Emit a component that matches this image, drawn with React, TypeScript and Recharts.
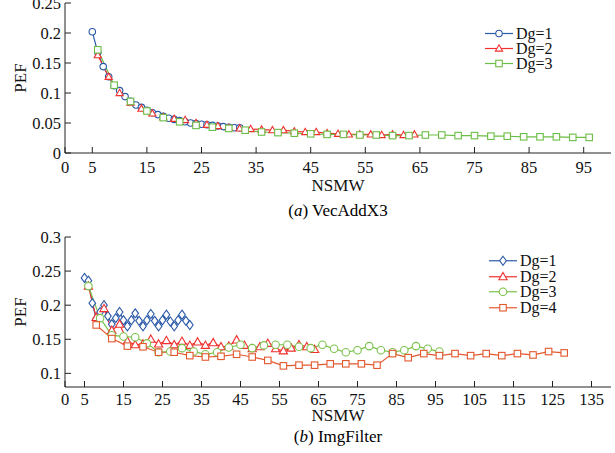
import { LineChart, Line, XAxis, YAxis } from "recharts";

// (a) VecAddX3
const vecX1 = [5, 6, 7, 8, 9, 10, 11, 12, 13, 14, 15, 16, 17, 18, 19, 20, 21, 22, 23, 24, 25, 26, 27, 28, 29, 30, 31, 32];
const vecPef1 = [0.202, 0.168, 0.144, 0.127, 0.112, 0.104, 0.094, 0.086, 0.08, 0.076, 0.071, 0.067, 0.064, 0.061, 0.058, 0.056, 0.054, 0.052, 0.05, 0.049, 0.048, 0.047, 0.046, 0.045, 0.044, 0.043, 0.042, 0.042];
const vecX2 = [6, 8, 10, 12, 14, 16, 18, 20, 22, 24, 26, 28, 30, 32, 34, 36, 38, 40, 42, 44, 46, 48, 50, 52, 54, 56, 58, 60, 62, 64];
const vecPef2 = [0.163, 0.127, 0.1, 0.084, 0.074, 0.066, 0.06, 0.057, 0.055, 0.05, 0.047, 0.045, 0.042, 0.041, 0.04, 0.039, 0.038, 0.038, 0.036, 0.035, 0.035, 0.033, 0.032, 0.031, 0.031, 0.031, 0.03, 0.031, 0.03, 0.031];
const vecX3 = [6, 9, 12, 15, 18, 21, 24, 27, 30, 33, 36, 39, 42, 45, 48, 51, 54, 57, 60, 63, 66, 69, 72, 75, 78, 81, 84, 87, 90, 93, 96];
const vecPef3 = [0.172, 0.113, 0.086, 0.07, 0.059, 0.052, 0.046, 0.043, 0.041, 0.038, 0.035, 0.034, 0.033, 0.032, 0.031, 0.031, 0.03, 0.03, 0.029, 0.029, 0.03, 0.03, 0.029, 0.029, 0.028, 0.028, 0.027, 0.027, 0.027, 0.026, 0.026];

// (b) ImgFilter
const imgX1 = [5, 6, 7, 8, 9, 10, 11, 12, 13, 14, 15, 16, 17, 18, 19, 20, 21, 22, 23, 24, 25, 26, 27, 28, 29, 30, 31, 32];
const imgPef1 = [0.24, 0.236, 0.203, 0.18, 0.19, 0.2, 0.184, 0.172, 0.181, 0.19, 0.178, 0.169, 0.178, 0.188, 0.177, 0.169, 0.178, 0.187, 0.177, 0.169, 0.178, 0.186, 0.176, 0.169, 0.178, 0.186, 0.177, 0.171];
const imgX2 = [6, 8, 10, 12, 14, 16, 18, 20, 22, 24, 26, 28, 30, 32, 34, 36, 38, 40, 42, 44, 46, 48, 50, 52, 54, 56, 58, 60, 62, 64];
const imgPef2 = [0.228, 0.182, 0.195, 0.163, 0.172, 0.147, 0.142, 0.143, 0.15, 0.143, 0.148, 0.142, 0.147, 0.141, 0.146, 0.141, 0.145, 0.139, 0.14, 0.149, 0.141, 0.136, 0.139, 0.144, 0.136, 0.133, 0.137, 0.142, 0.139, 0.135];
const imgX3 = [6, 9, 12, 15, 18, 21, 24, 27, 30, 33, 36, 39, 42, 45, 48, 51, 54, 57, 60, 63, 66, 69, 72, 75, 78, 81, 84, 87, 90, 93, 96];
const imgPef3 = [0.228, 0.181, 0.156, 0.154, 0.153, 0.144, 0.131, 0.132, 0.137, 0.132, 0.128, 0.131, 0.138, 0.142, 0.137, 0.141, 0.142, 0.142, 0.139, 0.137, 0.142, 0.136, 0.131, 0.134, 0.14, 0.134, 0.131, 0.134, 0.14, 0.136, 0.132];
const imgX4 = [8, 12, 16, 20, 24, 28, 32, 36, 40, 44, 48, 52, 56, 60, 64, 68, 72, 76, 80, 84, 88, 92, 96, 100, 104, 108, 112, 116, 120, 124, 128];
const imgPef4 = [0.171, 0.151, 0.14, 0.139, 0.131, 0.131, 0.126, 0.124, 0.125, 0.128, 0.124, 0.119, 0.111, 0.112, 0.112, 0.114, 0.114, 0.114, 0.112, 0.129, 0.123, 0.129, 0.126, 0.129, 0.126, 0.129, 0.126, 0.129, 0.127, 0.132, 0.13];

const vecXTicks = [0, 5, 15, 25, 35, 45, 55, 65, 75, 85, 95];
const vecYTicks = [0, 0.05, 0.1, 0.15, 0.2, 0.25];
const imgXTicks = [0, 5, 15, 25, 35, 45, 55, 65, 75, 85, 95, 105, 115, 125, 135];
const imgYTicks = [0.1, 0.15, 0.2, 0.25, 0.3];

const FONT = "Liberation Serif, Tinos, DejaVu Serif, serif";
const AXIS = "#222";
const BLUE = "#2b5aa8";
const RED = "#f0302e";
const GREEN = "#6cbd45";
const GREEN2 = "#7ac24a";
const ORANGE = "#e2582d";

const pts = (xs: number[], ys: number[]) => xs.map((x, i) => ({ x, pef: ys[i] }));

type Shape = "circle" | "triangle" | "square" | "diamond";

function Mark({ shape, cx, cy, color, size }: { shape: Shape; cx: number; cy: number; color: string; size: number }) {
  const h = size / 2;
  const common = { fill: "#fff", stroke: color, strokeWidth: 1.1 };
  if (shape === "circle") return <circle cx={cx} cy={cy} r={h} {...common} />;
  if (shape === "square") return <rect x={cx - h} y={cy - h} width={size} height={size} {...common} />;
  if (shape === "triangle")
    return <polygon points={`${cx},${cy - h * 1.15} ${cx + h * 1.1},${cy + h * 0.8} ${cx - h * 1.1},${cy + h * 0.8}`} {...common} />;
  return <polygon points={`${cx},${cy - h * 1.3} ${cx + h * 0.95},${cy} ${cx},${cy + h * 1.3} ${cx - h * 0.95},${cy}`} {...common} />;
}

type Series = { name: string; data: { x: number; pef: number }[]; color: string; shape: Shape; size: number };

const vecSeries: Series[] = [
  { name: "Dg=1", data: pts(vecX1, vecPef1), color: BLUE, shape: "circle", size: 6.5 },
  { name: "Dg=2", data: pts(vecX2, vecPef2), color: RED, shape: "triangle", size: 6.5 },
  { name: "Dg=3", data: pts(vecX3, vecPef3), color: GREEN, shape: "square", size: 6.5 },
];

const imgSeries: Series[] = [
  { name: "Dg=1", data: pts(imgX1, imgPef1), color: BLUE, shape: "diamond", size: 7 },
  { name: "Dg=2", data: pts(imgX2, imgPef2), color: RED, shape: "triangle", size: 7.5 },
  { name: "Dg=3", data: pts(imgX3, imgPef3), color: GREEN2, shape: "circle", size: 7.5 },
  { name: "Dg=4", data: pts(imgX4, imgPef4), color: ORANGE, shape: "square", size: 6.5 },
];

function LegendBox({ items, left, top, rowH }: { items: Series[]; left: number; top: number; rowH: number }) {
  return (
    <div style={{ position: "absolute", left, top, fontFamily: FONT, fontSize: 16, color: "#111" }}>
      {items.map((s) => (
        <div key={s.name} style={{ display: "flex", alignItems: "center", height: rowH }}>
          <svg width={30} height={rowH} style={{ display: "block" }}>
            <line x1={0} x2={28} y1={rowH / 2} y2={rowH / 2} stroke={s.color} strokeWidth={1.2} />
            <Mark shape={s.shape} cx={14} cy={rowH / 2} color={s.color} size={s.size} />
          </svg>
          <span style={{ marginLeft: 1, lineHeight: `${rowH}px` }}>{s.name}</span>
        </div>
      ))}
    </div>
  );
}

const tickStyle = { fontFamily: FONT, fontSize: 16.5, fill: "#111" };
const labelStyle = { fontFamily: FONT, fontSize: 17, fill: "#111" };

function Panel({
  series, xDomain, xTicks, yDomain, yTicks, marginTop, xAxisH, labelOffset, xTickMargin,
}: {
  series: Series[]; xDomain: number[]; xTicks: number[]; yDomain: number[]; yTicks: number[];
  marginTop: number; xAxisH: number; labelOffset: number; xTickMargin: number;
}) {
  return (
    <LineChart width={615} height={225} margin={{ top: marginTop, right: 4, left: 5, bottom: 225 - marginTop - 150 - xAxisH }}>
      <XAxis
        dataKey="x"
        type="number"
        domain={xDomain}
        ticks={xTicks}
        interval={0}
        allowDataOverflow
        height={xAxisH}
        stroke={AXIS}
        tickSize={-6}
        tickMargin={xTickMargin}
        tick={tickStyle}
        label={{ value: "NSMW", position: "insideBottom", offset: labelOffset, style: labelStyle }}
      />
      <XAxis xAxisId="top" orientation="top" dataKey="x" type="number" domain={xDomain} ticks={xTicks} interval={0} allowDataOverflow height={0} stroke={AXIS} tickSize={-6} tick={false} />
      <YAxis
        type="number"
        domain={yDomain}
        ticks={yTicks}
        interval={0}
        allowDataOverflow
        width={60}
        stroke={AXIS}
        tickSize={-6}
        tickMargin={10}
        tick={tickStyle}
        label={{ value: "PEF", angle: -90, position: "insideLeft", offset: 15, style: { ...labelStyle, textAnchor: "middle" } }}
      />
      <YAxis yAxisId="right" orientation="right" type="number" domain={yDomain} ticks={yTicks} interval={0} allowDataOverflow width={0} stroke={AXIS} tickSize={-6} tick={false} />
      {series.map((s) => (
        <Line
          key={s.name}
          data={s.data}
          dataKey="pef"
          name={s.name}
          type="linear"
          stroke={s.color}
          strokeWidth={1.2}
          isAnimationActive={false}
          activeDot={false}
          dot={(p: any) => <Mark key={`${s.name}-${p.index}`} shape={s.shape} cx={p.cx} cy={p.cy} color={s.color} size={s.size} />}
        />
      ))}
    </LineChart>
  );
}

export default function App() {
  return (
    <div style={{ position: "absolute", left: 0, top: 0, width: 615, height: 453, background: "#fff", fontFamily: FONT }}>
      <div style={{ position: "absolute", left: 0, top: 0 }}>
        <Panel series={vecSeries} xDomain={[0, 100]} xTicks={vecXTicks} yDomain={[0, 0.25]} yTicks={vecYTicks} marginTop={3} xAxisH={50} labelOffset={12} xTickMargin={14} />
        <LegendBox items={vecSeries} left={485} top={26} rowH={15} />
      </div>
      <div style={{ position: "absolute", left: 65, top: 201, width: 546, textAlign: "center", fontSize: 17, lineHeight: "20px" }}>
        (<i>a</i>) VecAddX3
      </div>
      <div style={{ position: "absolute", left: 0, top: 228 }}>
        <Panel series={imgSeries} xDomain={[0, 140]} xTicks={imgXTicks} yDomain={[0.08, 0.3]} yTicks={imgYTicks} marginTop={9} xAxisH={45} labelOffset={11} xTickMargin={12} />
        <LegendBox items={imgSeries} left={489} top={25} rowH={15.5} />
      </div>
      <div style={{ position: "absolute", left: 65, top: 427, width: 546, textAlign: "center", fontSize: 17, lineHeight: "20px" }}>
        (<i>b</i>) ImgFilter
      </div>
    </div>
  );
}
